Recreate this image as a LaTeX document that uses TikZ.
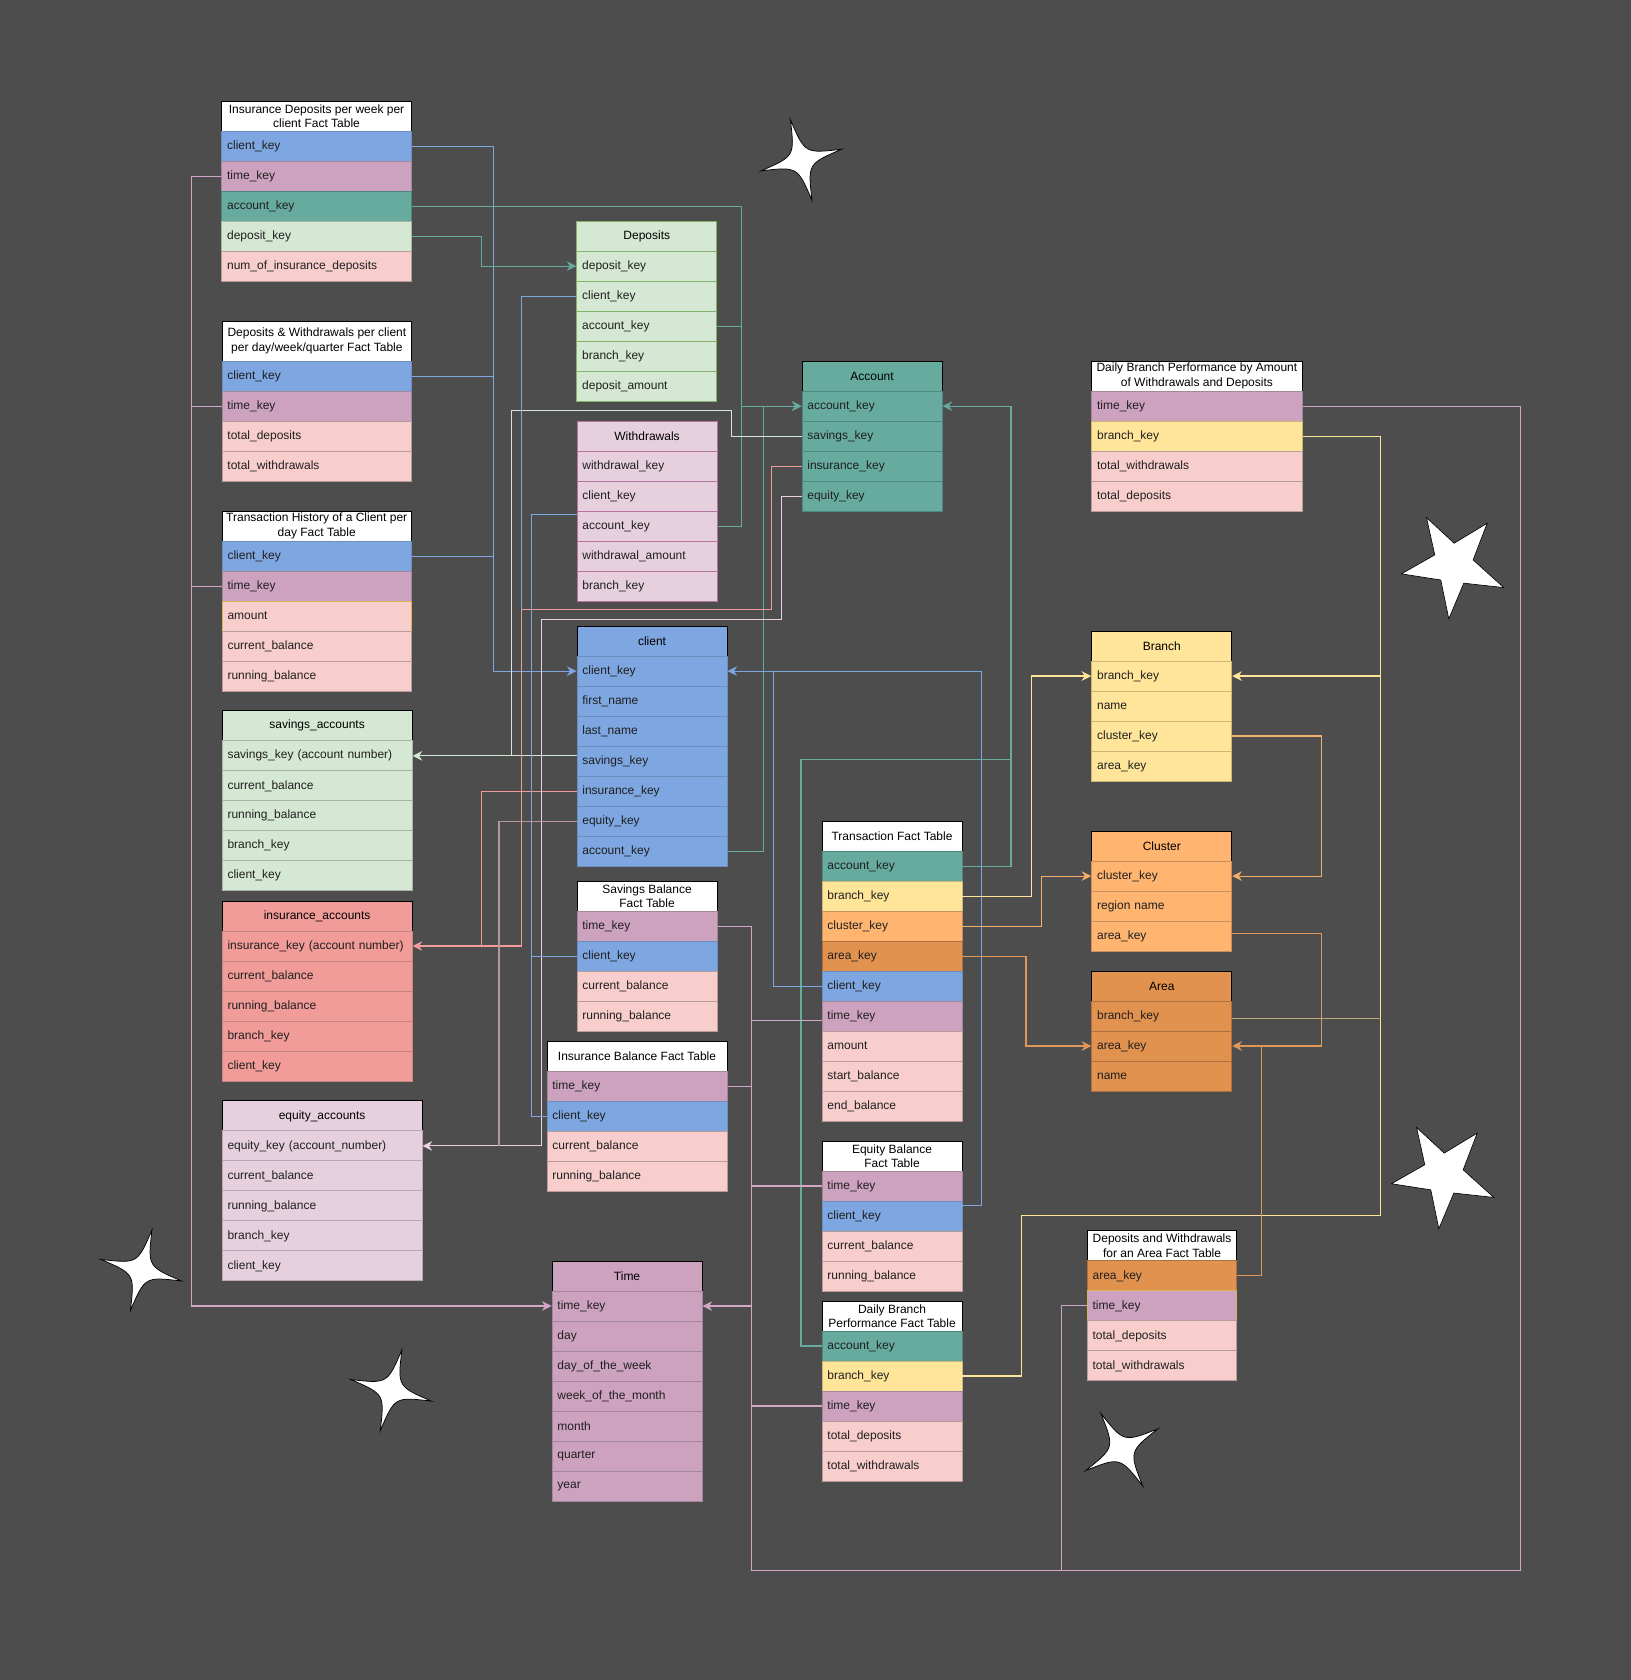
\documentclass[tikz,border=0pt]{standalone}
\usepackage{fontspec}
\setmainfont{Liberation Sans}
\usetikzlibrary{arrows.meta}
\definecolor{bgc}{HTML}{4D4D4D}
\definecolor{cB}{HTML}{7EA6E0}\definecolor{cBd}{HTML}{6C8EBF}
\definecolor{cM}{HTML}{CDA2BE}\definecolor{cMd}{HTML}{A3879A}
\definecolor{cT}{HTML}{67AB9F}\definecolor{cTd}{HTML}{4E877D}
\definecolor{cG}{HTML}{D5E8D4}\definecolor{cGd}{HTML}{A6B5A5}\definecolor{cGD}{HTML}{82B366}
\definecolor{cP}{HTML}{F8CECC}\definecolor{cPd}{HTML}{B89C9B}
\definecolor{cS}{HTML}{F19C99}\definecolor{cSd}{HTML}{C98583}
\definecolor{cE}{HTML}{E6D0DE}\definecolor{cEd}{HTML}{BAA7B3}\definecolor{cWD}{HTML}{B5739D}
\definecolor{cY}{HTML}{FFE599}\definecolor{cYd}{HTML}{CBB676}
\definecolor{cO}{HTML}{FFB570}\definecolor{cOd}{HTML}{C98F5A}
\definecolor{cA}{HTML}{E2924F}\definecolor{cAd}{HTML}{B0703E}
\definecolor{cYb}{HTML}{D6B656}
\definecolor{lB}{HTML}{7EA6E0}
\definecolor{lM}{HTML}{D4A6C6}
\definecolor{lMb}{HTML}{B8949F}
\definecolor{lT}{HTML}{67AB9F}
\definecolor{lG}{HTML}{D5E8D4}
\definecolor{lS}{HTML}{F19C99}
\definecolor{lPk}{HTML}{E8D0E0}
\definecolor{lY}{HTML}{FFE599}
\definecolor{lTan}{HTML}{BDAA7A}
\definecolor{lO}{HTML}{F4AE6C}
\definecolor{lA}{HTML}{E0985A}

\newcommand\fsz{\fontsize{11.2}{13.6}\selectfont}
\newcommand\tabl[7]{%
  \node[hd,#6,minimum width=#4pt,minimum height=#5pt] (#1) at (#2,#3) {#7};
  \def\tabx{#2}\def\tabw{#4}%
  \pgfmathsetmacro\taby{#3+#5}%
  \pgfmathsetmacro\tabtw{#4-10}%
}
\newcommand\rowc[3]{%
  \node[cell,#2,minimum width=\tabw pt,text width=\tabtw pt] (#1) at (\tabx,\taby) {#3};
  \pgfmathsetmacro\taby{\taby+28}%
}
\newcommand\sparkle[3]{%
  \begin{scope}[shift={(#1,#2)},rotate=#3]
    \filldraw[fill=white,draw=black,line width=0.7pt]
      (0:39pt) .. controls (45:7pt) .. (90:39pt)
      .. controls (135:7pt) .. (180:39pt)
      .. controls (225:7pt) .. (270:39pt)
      .. controls (315:7pt) .. (0:39pt) -- cycle;
  \end{scope}}
\newcommand\fivestar[2]{%
  \begin{scope}[shift={(#1,#2)}]
    \filldraw[fill=white,draw=black,line width=0.6pt]
      (1331.4,483.1) -- (1357.2,507) -- (1388,488.4) -- (1374.9,522.6)
      -- (1403.5,548.4) -- (1366.2,544.3) -- (1352.2,577.6) -- (1344.7,541.3)
      -- (1308,535.6) -- (1339.1,517.9) -- cycle;
  \end{scope}}

\begin{document}
\begin{tikzpicture}[x=1pt,y=-1pt,
  cell/.style={anchor=north west,inner xsep=5pt,inner ysep=0pt,minimum height=28pt,
    align=left,font=\fsz,text=black!88,line width=0.9pt},
  hd/.style={anchor=north west,inner sep=0pt,align=center,font=\fsz,text=black,
    draw=black,line width=0.9pt},
  rb/.style={fill=cB,draw=cBd}, rm/.style={fill=cM,draw=cMd},
  rt/.style={fill=cT,draw=cTd}, rg/.style={fill=cG,draw=cGd},
  rgd/.style={fill=cG,draw=cGD}, rp/.style={fill=cP,draw=cPd},
  rs/.style={fill=cS,draw=cSd}, re/.style={fill=cE,draw=cEd},
  rw/.style={fill=cE,draw=cWD}, ry/.style={fill=cY,draw=cYd},
  ro/.style={fill=cO,draw=cOd}, ra/.style={fill=cA,draw=cAd},
  ln/.style={line width=1pt},
  arw/.style={-{Stealth[length=9pt,width=9pt,inset=3pt]}},
]
\fill[bgc] (0,0) rectangle (1522,1568);
\useasboundingbox (0,0) rectangle (1522,1568);

% ---------- tables ----------
\tabl{t1}{206.5}{94}{177}{28}{fill=white}{Insurance Deposits per week per\\client Fact Table}
\rowc{a1ck}{rb}{client\_key}
\rowc{a1tk}{rm}{time\_key}
\rowc{a1ak}{rt}{account\_key}
\rowc{a1dk}{rg}{deposit\_key}
\rowc{a1n}{rp}{num\_of\_insurance\_deposits}

\tabl{t2}{206.8}{299.2}{177}{37.4}{fill=white}{Deposits \& Withdrawals per client\\per day/week/quarter Fact Table}
\rowc{b2ck}{rb}{client\_key}
\rowc{b2tk}{rm}{time\_key}
\rowc{b2td}{rp}{total\_deposits}
\rowc{b2tw}{rp}{total\_withdrawals}

\tabl{t3}{206.9}{476.6}{176.5}{28}{fill=white}{Transaction History of a Client per\\day Fact Table}
\rowc{c3ck}{rb}{client\_key}
\rowc{c3tk}{rm}{time\_key}
\rowc{c3am}{fill=cP,draw=cYb}{amount}
\rowc{c3cb}{rp}{current\_balance}
\rowc{c3rb}{rp}{running\_balance}

\tabl{sa}{206.9}{663}{177.3}{28}{fill=cG}{savings\_accounts}
\rowc{sak}{rg}{savings\_key (account number)}
\rowc{sacb}{rg}{current\_balance}
\rowc{sarb}{rg}{running\_balance}
\rowc{sabk}{rg}{branch\_key}
\rowc{sack}{rg}{client\_key}

\tabl{ia}{206.9}{840.5}{177.3}{28}{fill=cS}{insurance\_accounts}
\rowc{iak}{rs}{insurance\_key (account number)}
\rowc{iacb}{rs}{current\_balance}
\rowc{iarb}{rs}{running\_balance}
\rowc{iabk}{rs}{branch\_key}
\rowc{iack}{rs}{client\_key}

\tabl{ea}{206.9}{1027.1}{186.6}{28}{fill=cE}{equity\_accounts}
\rowc{eak}{re}{equity\_key (account\_number)}
\rowc{eacb}{re}{current\_balance}
\rowc{earb}{re}{running\_balance}
\rowc{eabk}{re}{branch\_key}
\rowc{eack}{re}{client\_key}

\tabl{dp}{537.9}{205.9}{130.6}{28}{fill=cG,draw=cGD}{Deposits}
\rowc{dpdk}{rgd}{deposit\_key}
\rowc{dpck}{rgd}{client\_key}
\rowc{dpak}{rgd}{account\_key}
\rowc{dpbk}{rgd}{branch\_key}
\rowc{dpda}{rgd}{deposit\_amount}

\tabl{wd}{538.1}{392.6}{130.7}{28}{fill=cE,draw=cWD}{Withdrawals}
\rowc{wdwk}{rw}{withdrawal\_key}
\rowc{wdck}{rw}{client\_key}
\rowc{wdak}{rw}{account\_key}
\rowc{wdwa}{rw}{withdrawal\_amount}
\rowc{wdbk}{rw}{branch\_key}

\tabl{cl}{538.1}{583.9}{140}{28}{fill=cB}{client}
\rowc{clck}{rb}{client\_key}
\rowc{clfn}{rb}{first\_name}
\rowc{clln}{rb}{last\_name}
\rowc{clsk}{rb}{savings\_key}
\rowc{clik}{rb}{insurance\_key}
\rowc{clek}{rb}{equity\_key}
\rowc{clak}{rb}{account\_key}

\tabl{sb}{538.1}{821.9}{130.7}{28}{fill=white}{Savings Balance\\Fact Table}
\rowc{sbtk}{rm}{time\_key}
\rowc{sbck}{rb}{client\_key}
\rowc{sbcb}{rp}{current\_balance}
\rowc{sbrb}{rp}{running\_balance}

\tabl{ib}{510.1}{971.2}{168}{28}{fill=white}{Insurance Balance Fact Table}
\rowc{ibtk}{rm}{time\_key}
\rowc{ibck}{rb}{client\_key}
\rowc{ibcb}{rp}{current\_balance}
\rowc{ibrb}{rp}{running\_balance}

\tabl{ti}{514.8}{1176.5}{140}{28}{fill=cM}{Time}
\rowc{titk}{rm}{time\_key}
\rowc{tid}{rm}{day}
\rowc{tidw}{rm}{day\_of\_the\_week}
\rowc{tiwm}{rm}{week\_of\_the\_month}
\rowc{timo}{rm}{month}
\rowc{tiqu}{rm}{quarter}
\rowc{tiyr}{rm}{year}

\tabl{ac}{748.1}{336.6}{130.7}{28}{fill=cT}{Account}
\rowc{acak}{rt}{account\_key}
\rowc{acsk}{rt}{savings\_key}
\rowc{acik}{rt}{insurance\_key}
\rowc{acek}{rt}{equity\_key}

\tabl{tf}{766.8}{765.9}{130.6}{28}{fill=white}{Transaction Fact Table}
\rowc{tfak}{rt}{account\_key}
\rowc{tfbk}{ry}{branch\_key}
\rowc{tfck}{ro}{cluster\_key}
\rowc{tfar}{ra}{area\_key}
\rowc{tfcl}{rb}{client\_key}
\rowc{tftk}{rm}{time\_key}
\rowc{tfam}{rp}{amount}
\rowc{tfsb}{rp}{start\_balance}
\rowc{tfeb}{rp}{end\_balance}

\tabl{eb}{766.8}{1064.5}{130.6}{28}{fill=white}{Equity Balance\\Fact Table}
\rowc{ebtk}{rm}{time\_key}
\rowc{ebck}{rb}{client\_key}
\rowc{ebcb}{rp}{current\_balance}
\rowc{ebrb}{rp}{running\_balance}

\tabl{db}{766.8}{1213.8}{130.6}{28}{fill=white}{Daily Branch\\Performance Fact Table}
\rowc{dbak}{rt}{account\_key}
\rowc{dbbk}{ry}{branch\_key}
\rowc{dbtk}{rm}{time\_key}
\rowc{dbtd}{rp}{total\_deposits}
\rowc{dbtw}{rp}{total\_withdrawals}

\tabl{da}{1018.5}{336.6}{196.3}{28}{fill=white}{Daily Branch Performance by Amount\\of Withdrawals and Deposits}
\rowc{datk}{rm}{time\_key}
\rowc{dabk}{ry}{branch\_key}
\rowc{datw}{rp}{total\_withdrawals}
\rowc{datd}{rp}{total\_deposits}

\tabl{br}{1018.5}{588.5}{130.7}{28}{fill=cY}{Branch}
\rowc{brbk}{ry}{branch\_key}
\rowc{brnm}{ry}{name}
\rowc{brck}{ry}{cluster\_key}
\rowc{brak}{ry}{area\_key}

\tabl{cu}{1018.5}{775.2}{130.7}{28}{fill=cO}{Cluster}
\rowc{cuck}{ro}{cluster\_key}
\rowc{curn}{ro}{region name}
\rowc{cuak}{ro}{area\_key}

\tabl{ar}{1018.5}{905.8}{130.7}{28}{fill=cA}{Area}
\rowc{arbk}{ra}{branch\_key}
\rowc{arak}{ra}{area\_key}
\rowc{arnm}{ra}{name}

\tabl{dw}{1014.3}{1148.4}{139.6}{28}{fill=white}{Deposits and Withdrawals\\for an Area Fact Table}
\rowc{dwak}{ra}{area\_key}
\rowc{dwtk}{fill=cM,draw=cYb}{time\_key}
\rowc{dwtd}{rp}{total\_deposits}
\rowc{dwtw}{rp}{total\_withdrawals}

% ---------- channel coordinates ----------
\coordinate (x178) at (178.5,0);
\coordinate (x449) at (449,0);
\coordinate (x449b) at (449.5,0);
\coordinate (x460) at (460.4,0);
\coordinate (x466) at (465.7,0);
\coordinate (x477) at (477,0);
\coordinate (x487) at (486.8,0);
\coordinate (x496) at (496.1,0);
\coordinate (x505) at (505.5,0);
\coordinate (x683) at (682.8,0);
\coordinate (x692) at (692.1,0);
\coordinate (x701) at (701.4,0);
\coordinate (x713) at (713,0);
\coordinate (x720) at (720,0);
\coordinate (x722) at (722.3,0);
\coordinate (x729) at (729.4,0);
\coordinate (x748) at (747.6,0);
\coordinate (x916) at (916,0);
\coordinate (x943) at (943.6,0);
\coordinate (x953) at (953.1,0);
\coordinate (x958) at (957.6,0);
\coordinate (x963) at (962.8,0);
\coordinate (x972) at (972,0);
\coordinate (x990) at (990.6,0);
\coordinate (x1177) at (1177.2,0);
\coordinate (x1233) at (1233.3,0);
\coordinate (x1289) at (1288.6,0);
\coordinate (x1420) at (1419.5,0);
\coordinate (y383) at (0,382.9);
\coordinate (y569) at (0,569);
\coordinate (y579) at (0,578.6);
\coordinate (y710) at (0,709.2);
\coordinate (y1134) at (0,1134.5);
\coordinate (ybot) at (0,1465.5);

% ---------- connectors ----------
% client_key from fact tables to client
\draw[ln,lB,arw] (a1ck.east) -| (x460 |- clck.west) -- (clck.west);
\draw[ln,lB] (b2ck.east) -- (b2ck.east -| x460);
\draw[ln,lB] (c3ck.east) -- (c3ck.east -| x460);
% time_key on the left to Time
\draw[ln,lM,arw] (a1tk.west) -| (x178 |- titk.west) -- (titk.west);
\draw[ln,lM] (b2tk.west) -- (b2tk.west -| x178);
\draw[ln,lM] (c3tk.west) -- (c3tk.west -| x178);
% account_key to Account (left)
\draw[ln,lT,arw] (a1ak.east) -| (x692 |- acak.west) -- (acak.west);
\draw[ln,lT] (dpak.east) -- (dpak.east -| x692);
\draw[ln,lT] (wdak.east) -| (x692 |- acak.west);
\draw[ln,lT,arw] (clak.east) -| (x713 |- acak.west) -- (acak.west);
% account_key to Account (right)
\draw[ln,lT,arw] (tfak.east) -| (x943 |- acak.east) -- (acak.east);
\draw[ln,lT] (dbak.west) -| (x748 |- y710) -- (x943 |- y710);
% deposit_key
\draw[ln,lT,arw] (a1dk.east) -| (x449 |- dpdk.west) -- (dpdk.west);
% savings_key
\draw[ln,lG,arw] (clsk.west |- sak.east) -- (sak.east);
\draw[ln,lG] (acsk.west) -| (x683 |- y383) -| (x477 |- sak.east);
% insurance_key
\draw[ln,lS,arw] (acik.west) -| (x720 |- y569) -| (x487 |- iak.east) -- (iak.east);
\draw[ln,lS] (clik.west) -| (x449b |- iak.east);
% equity_key
\draw[ln,lPk,arw] (acek.west) -| (x729 |- y579) -| (x505 |- eak.east) -- (eak.east);
\draw[ln,lMb] (clek.west) -| (x466 |- eak.east);
% client_key lines without arrows
\draw[ln,lB] (dpck.west) -| (x487 |- y569);
\draw[ln,lB] ([yshift=-4pt]wdak.north west) -| (x496 |- ibck.west) -- (ibck.west);
\draw[ln,lB] (sbck.west) -- (sbck.west -| x496);
% client_key into client from the right
\draw[ln,lB,arw] ([yshift=9.5pt]ebck.east) -| (x916 |- clck.east) -- (clck.east);
\draw[ln,lB] (tfcl.west) -| (x722 |- clck.east);
% time_key on the right to Time
\draw[ln,lM,arw] (sbtk.east) -| (x701 |- titk.east) -- (titk.east);
\draw[ln,lM] (x701 |- titk.east) -- (x701 |- dbtk.west);
\draw[ln,lM] (ibtk.east) -- (ibtk.east -| x701);
\draw[ln,lM] ([yshift=-4.5pt]tftk.west) -- ([yshift=-4.5pt]tftk.west -| x701);
\draw[ln,lM] (ebtk.west) -- (ebtk.west -| x701);
\draw[ln,lM] (dbtk.west) -| (x701 |- ybot) -| (x1420 |- datk.east) -- (datk.east);
\draw[ln,lM] (dwtk.west) -| (x990 |- ybot);
% branch_key
\draw[ln,lY,arw] (tfbk.east) -| (x963 |- brbk.west) -- (brbk.west);
\draw[ln,lY,arw] (dabk.east) -| (x1289 |- brbk.east) -- (brbk.east);
\draw[ln,lY] (dbbk.east) -| (x953 |- y1134) -| (x1289 |- brbk.east);
\draw[ln,lTan] ([yshift=-2pt]arbk.east) -- ([yshift=-2pt]arbk.east -| x1289);
% cluster_key
\draw[ln,lO,arw] (tfck.east) -| (x972 |- cuck.west) -- (cuck.west);
\draw[ln,lO,arw] (brck.east) -| (x1233 |- cuck.east) -- (cuck.east);
% area_key
\draw[ln,lA,arw] (tfar.east) -| (x958 |- arak.west) -- (arak.west);
\draw[ln,lA,arw] ([yshift=2pt]cuak.east) -| (x1233 |- arak.east) -- (arak.east);
\draw[ln,lA] (dwak.east) -| (x1177 |- arak.east);

% ---------- stars ----------
\sparkle{747.8}{149.4}{15}
\sparkle{131.8}{1185.5}{-15}
\sparkle{365}{1297.6}{-15}
\sparkle{1047}{1353}{30}
\fivestar{0}{0}
\fivestar{-9.3}{569.2}
\end{tikzpicture}
\end{document}
